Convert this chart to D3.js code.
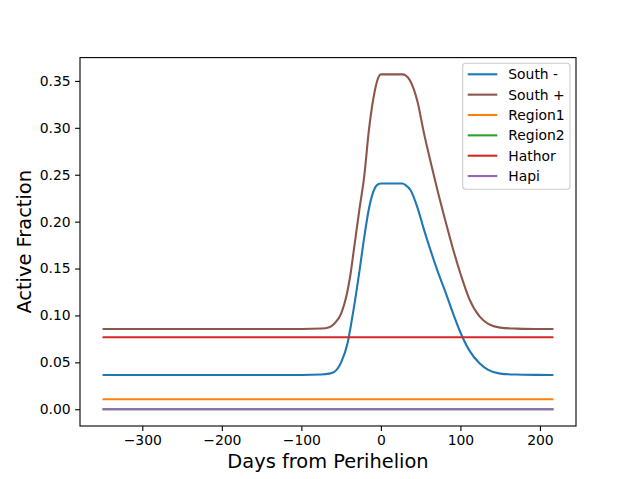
<!DOCTYPE html>
<html>
<head>
<meta charset="utf-8">
<title>Active Fraction</title>
<script src="https://d3js.org/d3.v7.min.js"></script>
<style>
  body { margin: 0; background: white; }
  text { font-family: "DejaVu Sans", sans-serif; fill: black; }
</style>
</head>
<body>
<script>
// values
const days = [-350, -100, -75, -65, -59, -50, -42, -38, -34, -27, -21, -15, -8, -3, 0, 27, 31, 37, 46, 54, 63, 71, 82, 90, 101, 111, 124, 135, 150, 170, 195, 217];
const southMinus = [0.0365, 0.0365, 0.037, 0.038, 0.0396, 0.050, 0.070, 0.088, 0.108, 0.147, 0.183, 0.214, 0.235, 0.2402, 0.2406, 0.2406, 0.239, 0.234, 0.215, 0.192, 0.168, 0.148, 0.123, 0.104, 0.080, 0.063, 0.049, 0.042, 0.038, 0.037, 0.0366, 0.0365];
const southPlus = [0.0855, 0.0855, 0.086, 0.0875, 0.091, 0.102, 0.126, 0.145, 0.170, 0.213, 0.248, 0.298, 0.338, 0.354, 0.357, 0.357, 0.356, 0.350, 0.328, 0.295, 0.262, 0.234, 0.198, 0.173, 0.142, 0.118, 0.099, 0.091, 0.087, 0.086, 0.0856, 0.0855];
const flatDays = [-350, 217];
const region1 = [0.0106, 0.0106];
const region2 = [0, 0];
const hathor = [0.0768, 0.0768];
const hapi = [0, 0];

const seriesNames = ["South -", "South +", "Region1", "Region2", "Hathor", "Hapi"];
const seriesColors = ["#1f77b4", "#8c564b", "#ff7f0e", "#2ca02c", "#d62728", "#9467bd"];
const xTicks = [-300, -200, -100, 0, 100, 200];
const yTicks = [0, 0.05, 0.10, 0.15, 0.20, 0.25, 0.30, 0.35];

const series = [
  {x: days, y: southMinus},
  {x: days, y: southPlus},
  {x: flatDays, y: region1},
  {x: flatDays, y: region2},
  {x: flatDays, y: hathor},
  {x: flatDays, y: hapi}
];

const W = 641, H = 479;
const axL = 80, axR = 576, axT = 57.6, axB = 426;

// matplotlib style 5% margins
const xMin = d3.min(days), xMax = d3.max(days);
const xPad = (xMax - xMin) * 0.05;
const yMax = d3.max(southPlus);
const yPad = yMax * 0.05;

const x = d3.scaleLinear().domain([xMin - xPad, xMax + xPad]).range([axL, axR]);
const y = d3.scaleLinear().domain([-yPad, yMax + yPad]).range([axB, axT]);

const svg = d3.select("body").append("svg")
  .attr("width", W).attr("height", H);

const line = d3.line()
  .x(d => x(d[0]))
  .y(d => y(d[1]))
  .curve(d3.curveMonotoneX);

series.forEach((s, i) => {
  svg.append("path")
    .datum(s.x.map((d, j) => [d, s.y[j]]))
    .attr("fill", "none")
    .attr("stroke", seriesColors[i])
    .attr("stroke-width", 2.1)
    .attr("d", line);
});

const xAxis = svg.append("g")
  .attr("transform", `translate(0,${axB})`)
  .call(d3.axisBottom(x).tickValues(xTicks).tickSize(4.9).tickPadding(4.5).tickFormat(d3.format("d")));
const yAxis = svg.append("g")
  .attr("transform", `translate(${axL},0)`)
  .call(d3.axisLeft(y).tickValues(yTicks).tickSize(4.9).tickPadding(4.5).tickFormat(d3.format(".2f")));

[xAxis, yAxis].forEach(g => {
  g.select(".domain").remove();
  g.selectAll("line").attr("stroke", "black").attr("stroke-width", 1.1);
  g.selectAll("text").style("font-family", "DejaVu Sans").style("font-size", "13.9px").attr("fill", "black");
});

// frame
svg.append("rect")
  .attr("x", axL).attr("y", axT)
  .attr("width", axR - axL).attr("height", axB - axT)
  .attr("fill", "none").attr("stroke", "black").attr("stroke-width", 1.1);

svg.append("text")
  .attr("x", (axL + axR) / 2).attr("y", 468)
  .attr("text-anchor", "middle")
  .style("font-size", "19.4px")
  .text("Days from Perihelion");

svg.append("text")
  .attr("transform", `translate(31,${(axT + axB) / 2}) rotate(-90)`)
  .attr("text-anchor", "middle")
  .style("font-size", "19.4px")
  .text("Active Fraction");

// legend
const lg = svg.append("g");
lg.append("rect")
  .attr("x", 462.7).attr("y", 63.3)
  .attr("width", 107.3).attr("height", 126)
  .attr("rx", 3)
  .attr("fill", "white").attr("fill-opacity", 0.8)
  .attr("stroke", "#cccccc").attr("stroke-width", 1.1);

seriesNames.forEach((name, i) => {
  const cy = 74.3 + i * 20.35;
  lg.append("line")
    .attr("x1", 467.7).attr("x2", 497.3)
    .attr("y1", cy).attr("y2", cy)
    .attr("stroke", seriesColors[i]).attr("stroke-width", 2.1);
  lg.append("text")
    .attr("x", 508.3).attr("y", cy)
    .attr("dy", "0.36em")
    .style("font-size", "13.9px")
    .text(name);
});
</script>
</body>
</html>
